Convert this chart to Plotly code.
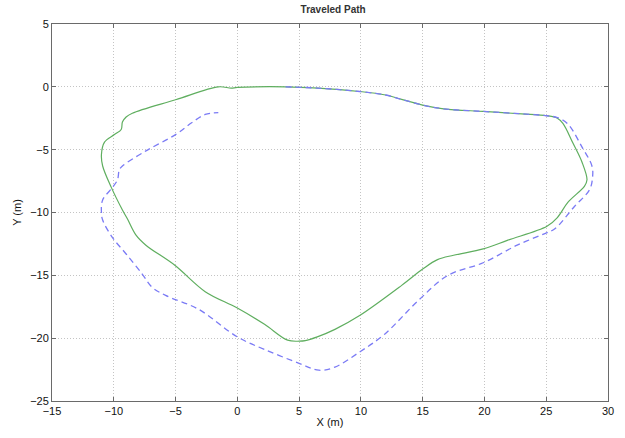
import plotly.graph_objects as go

# Green solid path
green_x = [-1.54, -0.5, 0.0, 3.9, 6.5, 9.9, 12.0, 13.3, 15.0, 16.7, 19.9, 23.0, 25.06, 25.9,
           26.35, 27.15, 27.9, 28.3, 28.1, 26.75, 25.9, 25.06, 21.9, 19.9, 17.5, 16.2, 15.0,
           13.3, 9.9, 7.9, 6.47, 5.5, 5.03, 4.07, 2.2, 0.0, -2.6, -5.06, -7.4, -8.2, -8.9,
           -9.3, -10.2, -10.9, -11.0, -10.75, -9.95, -9.4, -9.3, -9.0, -8.5, -5.0, -1.54]
green_y = [0.0, -0.1, -0.05, 0.0, -0.1, -0.37, -0.65, -1.0, -1.45, -1.75, -1.96, -2.15, -2.3, -2.5,
           -2.9, -4.45, -6.0, -7.4, -7.9, -9.2, -10.4, -11.1, -12.2, -12.9, -13.4, -13.75, -14.5,
           -15.8, -18.2, -19.3, -19.9, -20.2, -20.24, -20.16, -18.9, -17.6, -16.3, -14.2, -12.6, -11.8, -10.5,
           -9.8, -8.0, -6.3, -5.4, -4.4, -3.8, -3.4, -2.8, -2.4, -2.1, -1.03, 0.0]

# Blue dashed path
blue_x = [3.9, 6.5, 9.9, 12.0, 13.3, 15.0, 16.7, 19.9, 23.0, 25.06, 25.9, 26.75, 27.9, 28.7,
          28.75, 28.5, 27.3, 25.7, 25.06, 22.65, 19.9, 17.05, 14.65, 11.9, 9.9, 7.9, 6.6, 5.0,
          2.2, 0.0, -3.14, -5.8, -6.9, -7.7, -9.0, -10.1, -10.9, -11.0, -10.9, -10.1, -9.7,
          -9.55, -9.3, -7.4, -5.0, -3.7, -2.6, -1.54]
blue_y = [0.0, -0.1, -0.37, -0.65, -1.0, -1.45, -1.75, -1.96, -2.15, -2.3, -2.45, -2.95, -4.8, -6.3,
          -7.2, -8.2, -9.5, -11.3, -11.6, -12.6, -14.0, -15.0, -17.0, -19.7, -21.1, -22.3, -22.55, -22.0,
          -20.9, -19.9, -17.7, -16.6, -15.95, -14.9, -13.3, -12.0, -10.6, -10.0, -9.0, -8.0, -7.4,
          -6.6, -6.3, -5.1, -3.8, -2.86, -2.2, -2.06]

x_ticks = [-15, -10, -5, 0, 5, 10, 15, 20, 25, 30]
y_ticks = [-25, -20, -15, -10, -5, 0, 5]

fig = go.Figure()
fig.add_trace(go.Scatter(x=green_x, y=green_y, mode="lines",
                         line=dict(color="#5fae5f", width=1.2), line_shape="spline",
                         showlegend=False))
fig.add_trace(go.Scatter(x=blue_x, y=blue_y, mode="lines",
                         line=dict(color="#7b7bf5", width=1.3, dash="6px,4px"), line_shape="spline",
                         showlegend=False))

axis_common = dict(showgrid=True, gridcolor="#c4c4c4", griddash="1px,2px", gridwidth=1,
                   zeroline=False, showline=True, linecolor="#6a6a6a", linewidth=1, mirror="ticks",
                   ticks="inside", ticklen=4, tickcolor="#6a6a6a",
                   tickfont=dict(family="Liberation Sans, Arial", size=11, color="#111111"))

fig.update_layout(
    width=625, height=438,
    margin=dict(l=52, r=11, t=24, b=37),
    paper_bgcolor="white", plot_bgcolor="white",
    title=dict(text="<b>Traveled Path</b>", x=0.533, xanchor="center", y=0.978, yanchor="middle",
               font=dict(family="Liberation Sans, Arial", size=10, color="#333333")),
    xaxis=dict(range=[-15, 30], tickvals=x_ticks, ticktext=[str(v).replace("-", "\u2212") for v in x_ticks],
               title=dict(text="X (m)", standoff=2,
                          font=dict(family="Liberation Sans, Arial", size=11, color="#111111")),
               **axis_common),
    yaxis=dict(range=[-25, 5], tickvals=y_ticks, ticktext=[str(v).replace("-", "\u2212") for v in y_ticks],
               title=dict(text="Y (m)", standoff=6,
                          font=dict(family="Liberation Sans, Arial", size=11, color="#111111")),
               **axis_common),
)

fig.write_html("out.html")
